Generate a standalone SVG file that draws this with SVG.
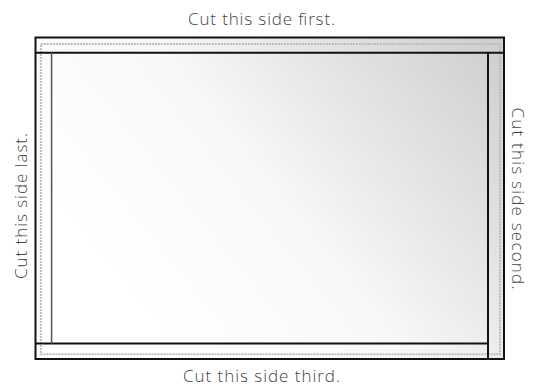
<svg xmlns="http://www.w3.org/2000/svg" width="538" height="386" viewBox="0 0 538 386">
  <style>
    .lbl { font-family: "Open Sans", "Lato", "Liberation Sans", sans-serif; font-weight: 300; font-size: 17px; fill: #444444; text-anchor: middle; }
    .edge { fill: none; stroke: #111; stroke-width: 2; }
    .cut { fill: none; stroke: #111; stroke-width: 2; }
    .cutl { fill: none; stroke: #555; stroke-width: 1.5; }
    .dots { fill: none; stroke: #bcbcbc; stroke-width: 2; stroke-dasharray: 2 1; }
  </style>
  <defs>
    <linearGradient id="paper" x1="0.1" y1="0.6" x2="1" y2="0.1">
      <stop offset="0" stop-color="#ffffff"/>
      <stop offset="0.4" stop-color="#f8f8f8"/>
      <stop offset="1" stop-color="#d0d0d0"/>
    </linearGradient>
  </defs>
  <g id="paper-sheet">
    <rect x="35.5" y="37.5" width="468.5" height="321.5" fill="url(#paper)"/>
    <rect class="dots" x="40.8" y="44" width="459.2" height="310.3"/>
  </g>
  <g id="connectors">
    <line class="cut" x1="35" y1="52.8" x2="504" y2="52.8"/>
    <line class="cut" x1="488" y1="52.8" x2="488" y2="359"/>
    <line class="cut" x1="35" y1="343.5" x2="488" y2="343.5"/>
    <line class="cutl" x1="51.6" y1="52.8" x2="51.6" y2="343.5"/>
    <rect class="edge" x="35.5" y="37.5" width="468.5" height="321.5"/>
  </g>
  <g id="label-first">
    <text class="lbl" x="261.5" y="25" textLength="147" lengthAdjust="spacing">Cut this side first.</text>
  </g>
  <g id="label-second">
    <text class="lbl" transform="translate(512,198.5) rotate(90)" x="0" y="0" textLength="182" lengthAdjust="spacing">Cut this side second.</text>
  </g>
  <g id="label-third">
    <text class="lbl" x="261.5" y="381.5" textLength="157" lengthAdjust="spacing">Cut this side third.</text>
  </g>
  <g id="label-last">
    <text class="lbl" transform="translate(27,206) rotate(-90)" x="0" y="0" textLength="146" lengthAdjust="spacing">Cut this side last.</text>
  </g>
</svg>
